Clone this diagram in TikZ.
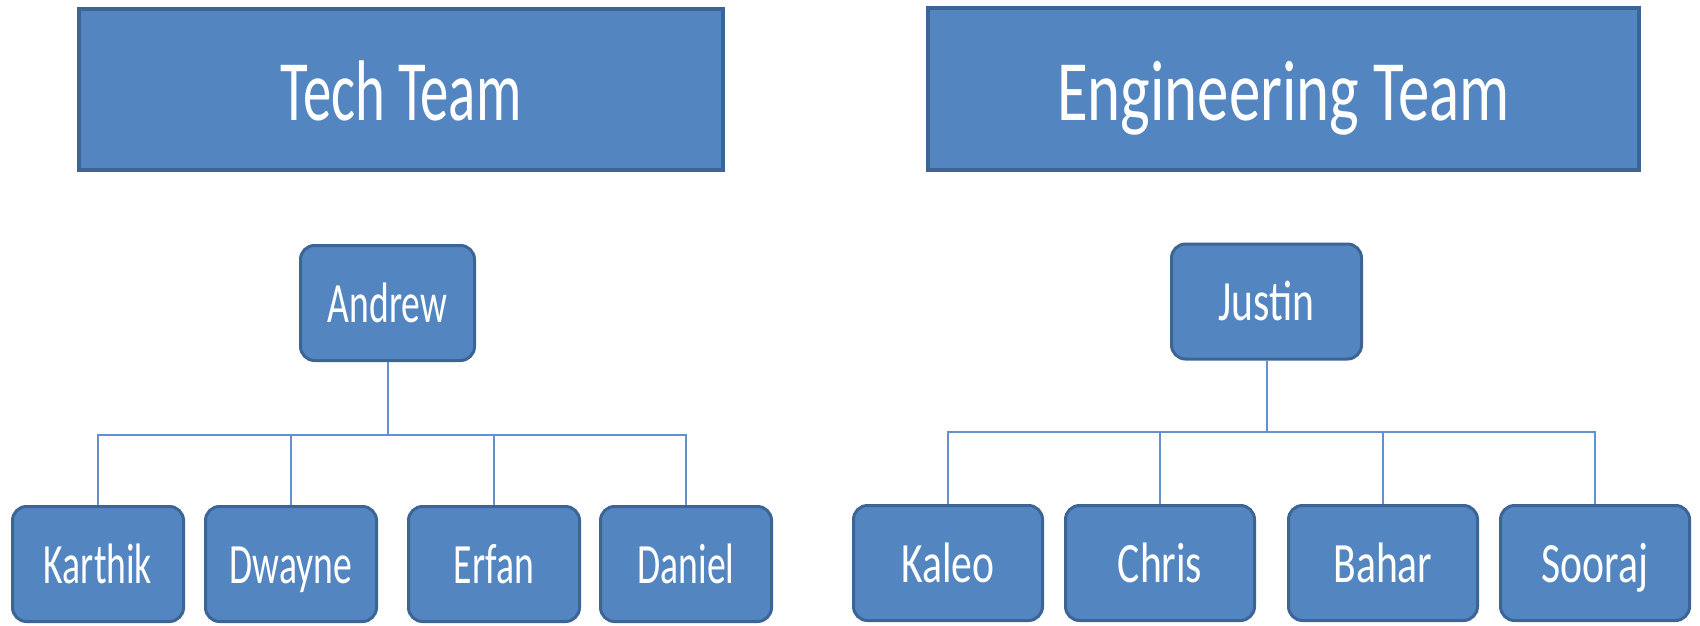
\documentclass[tikz,border=0pt]{standalone}
\usepackage{fontspec}
\usepackage{xcolor}
\usepackage{tikz}
\usetikzlibrary{positioning}
\newfontfamily\techfont[FakeStretch=0.66]{Carlito}
\newfontfamily\engfont[FakeStretch=0.73]{Carlito}
\definecolor{boxblue}{HTML}{5386C0}
\definecolor{boxedge}{HTML}{3C6596}
\definecolor{branchblue}{HTML}{6490CB}
\tikzset{
  team box/.style={
    fill=boxblue,
    draw=boxedge,
    line width=4pt,
    text=white,
    minimum width={#1},
    minimum height=161pt,
    text height=70pt,
    text depth=7pt,
    font=\fontsize{86}{86}\selectfont,
  },
  person box/.style={
    fill=boxblue,
    draw=boxedge,
    line width=3pt,
    rounded corners=14pt,
    text=white,
    minimum width={#1},
    minimum height=115pt,
    text height=46pt,
    text depth=8pt,
    font=\fontsize{57}{57}\selectfont,
  },
  branch/.style={
    draw=branchblue,
    line width=2pt,
  }
}

\begin{document}
\begin{tikzpicture}[x=1pt, y=-1pt]
    \useasboundingbox (0,0) rectangle (1700,626);

    % tech team
    \node [team box=644pt] (tech) at (401,89.5) {\techfont Tech Team};
    \node [person box=174pt] (andrew) at (387.5,303) {\techfont Andrew};
    \node [person box=171pt] (karthik) at (98,564) {\techfont Karthik};
    \node [person box=171pt, right=19pt of karthik] (dwayne) {\techfont Dwayne};
    \node [person box=171pt, right=29pt of dwayne] (erfan) {\techfont Erfan};
    \node [person box=171pt, right=18pt of erfan] (daniel) {\techfont Daniel};

    \coordinate (techbus) at (387.5,435);
    \draw [branch] (andrew.south) -- (techbus);
    \foreach \n in {karthik,dwayne,erfan,daniel}
        \draw [branch] (techbus) -| (\n.north);

    % engineering team
    \node [team box=711pt] (eng) at (1283.5,89) {\engfont Engineering Team};
    \node [person box=190pt] (justin) at (1266.5,301.5) {\engfont Justin};
    \node [person box=189pt] (kaleo) at (948,563) {\engfont Kaleo};
    \node [person box=189pt, right=20pt of kaleo] (chris) {\engfont Chris};
    \node [person box=189pt, right=31pt of chris] (bahar) {\engfont Bahar};
    \node [person box=189pt, right=20pt of bahar] (sooraj) {\engfont Sooraj};

    \coordinate (engbus) at (1266.5,432);
    \draw [branch] (justin.south) -- (engbus);
    \foreach \n in {kaleo,chris,bahar,sooraj}
        \draw [branch] (engbus) -| (\n.north);
\end{tikzpicture}
\end{document}
